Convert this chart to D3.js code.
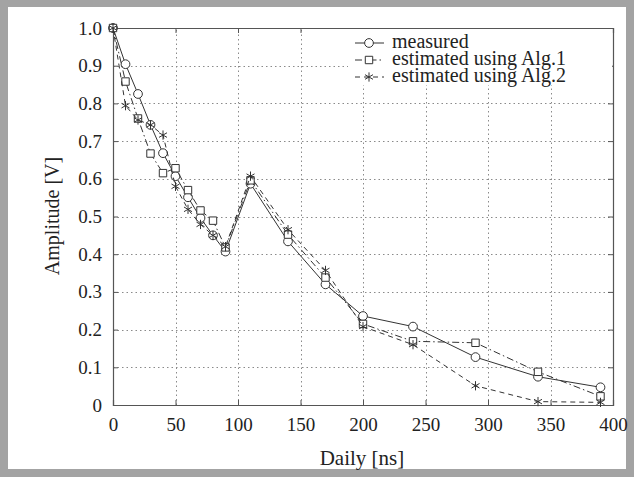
<!DOCTYPE html>
<html>
<head>
<meta charset="utf-8">
<script src="https://cdn.jsdelivr.net/npm/d3@7"></script>
<style>
  body { margin: 0; background: #fff; }
  text { font-family: "Liberation Serif", "Times New Roman", serif; fill: #222; }
</style>
</head>
<body>
<svg class="chart"></svg>
<script>
const delays = [0, 10, 20, 30, 40, 50, 60, 70, 80, 90, 110, 140, 170, 200, 240, 290, 340, 390];
const measured = [1.0, 0.904, 0.825, 0.743, 0.668, 0.607, 0.551, 0.496, 0.45, 0.407, 0.587, 0.434, 0.32, 0.236, 0.208, 0.127, 0.075, 0.047];
const alg1 = [1.0, 0.858, 0.76, 0.667, 0.615, 0.628, 0.57, 0.516, 0.489, 0.418, 0.596, 0.452, 0.338, 0.215, 0.169, 0.165, 0.088, 0.023];
const alg2 = [1.0, 0.794, 0.756, 0.743, 0.716, 0.58, 0.519, 0.479, 0.45, 0.42, 0.607, 0.465, 0.357, 0.208, 0.16, 0.051, 0.009, 0.007];
const xTicks = [0, 50, 100, 150, 200, 250, 300, 350, 400];
const yTicks = [0, 0.1, 0.2, 0.3, 0.4, 0.5, 0.6, 0.7, 0.8, 0.9, 1.0];
const seriesNames = ['measured', 'estimated using Alg.1', 'estimated using Alg.2'];

const width = 634, height = 477;
const svg = d3.select('.chart').attr('width', width).attr('height', height);

// gray frame round the figure
svg.append('rect').attr('width', width).attr('height', height).attr('fill', '#a3a3a3');
svg.append('rect').attr('x', 8).attr('y', 7).attr('width', 618).attr('height', 462).attr('fill', '#fff');

const x = d3.scaleLinear().domain([0, 400]).range([113, 613]);
const y = d3.scaleLinear().domain([0, 1]).range([405, 28]);

// grid
const grid = svg.append('g').attr('stroke', '#8a8a8a').attr('stroke-width', 1).attr('stroke-dasharray', '1.5,3');
grid.selectAll('.vg').data(xTicks.slice(1, -1)).join('line')
  .attr('x1', d => Math.round(x(d)) + 0.5).attr('x2', d => Math.round(x(d)) + 0.5)
  .attr('y1', y(0)).attr('y2', y(1));
grid.selectAll('.hg').data(yTicks.slice(1, -1)).join('line')
  .attr('y1', d => Math.round(y(d)) + 0.5).attr('y2', d => Math.round(y(d)) + 0.5)
  .attr('x1', x(0)).attr('x2', x(400));

// axes with inward ticks
const axisColor = '#555';
const axBottom = svg.append('g').attr('transform', `translate(0,${y(0)})`)
  .call(d3.axisBottom(x).tickValues(xTicks).tickSize(-5).tickPadding(13).tickFormat(d3.format('d')));
const axTop = svg.append('g').attr('transform', `translate(0,${y(1)})`)
  .call(d3.axisTop(x).tickValues(xTicks).tickSize(-5).tickFormat(''));
const axLeft = svg.append('g').attr('transform', `translate(${x(0)},0)`)
  .call(d3.axisLeft(y).tickValues(yTicks).tickSize(-5).tickPadding(11).tickFormat(d => d === 0 ? '0' : d3.format('.1f')(d)));
const axRight = svg.append('g').attr('transform', `translate(${x(400)},0)`)
  .call(d3.axisRight(y).tickValues(yTicks).tickSize(-5).tickFormat(''));
[axBottom, axTop, axLeft, axRight].forEach(a => {
  a.attr('font-family', '"Liberation Serif", serif');
  a.select('.domain').attr('stroke', axisColor).attr('stroke-width', 1.2);
  a.selectAll('.tick line').attr('stroke', axisColor);
  a.selectAll('.tick text').attr('font-size', 19).attr('fill', '#222');
});

// series
const series = [
  { name: seriesNames[0], values: measured, dash: null, symbol: d3.symbolCircle, size: 60, fill: '#fff' },
  { name: seriesNames[1], values: alg1, dash: '7,3,1.5,3', symbol: d3.symbolSquare, size: 55, fill: '#fff' },
  { name: seriesNames[2], values: alg2, dash: '5,4', symbol: d3.symbolAsterisk || d3.symbolCross, size: 60, fill: 'none' }
];
const line = d3.line().x(d => x(d[0])).y(d => y(d[1]));

series.forEach(s => {
  const pts = delays.map((d, i) => [d, s.values[i]]);
  svg.append('path').datum(pts).attr('d', line)
    .attr('fill', 'none').attr('stroke', '#333').attr('stroke-width', 1)
    .attr('stroke-dasharray', s.dash);
  svg.append('g').selectAll('path').data(pts).join('path')
    .attr('d', d3.symbol().type(s.symbol).size(s.size))
    .attr('transform', d => `translate(${x(d[0])},${y(d[1])})`)
    .attr('fill', s.fill).attr('stroke', '#333').attr('stroke-width', 1);
});

// legend
const legend = svg.append('g');
legend.append('rect').attr('x', 348).attr('y', 29).attr('width', 264).attr('height', 56).attr('fill', '#fff');
series.forEach((s, i) => {
  const ly = 43 + i * 17;
  legend.append('line').attr('x1', 355).attr('x2', 384).attr('y1', ly).attr('y2', ly)
    .attr('stroke', '#333').attr('stroke-dasharray', s.dash);
  legend.append('path').attr('d', d3.symbol().type(s.symbol).size(s.size)())
    .attr('transform', `translate(369,${ly})`)
    .attr('fill', s.fill).attr('stroke', '#333');
  legend.append('text').attr('x', 392).attr('y', ly + 5).attr('font-size', 20).text(s.name);
});

// axis titles
svg.append('text').attr('x', 362).attr('y', 465).attr('text-anchor', 'middle')
  .attr('font-size', 21).text('Daily [ns]');
svg.append('text').attr('transform', 'translate(59,216) rotate(-90)').attr('text-anchor', 'middle')
  .attr('font-size', 20).text('Amplitude [V]');
</script>
</body>
</html>
